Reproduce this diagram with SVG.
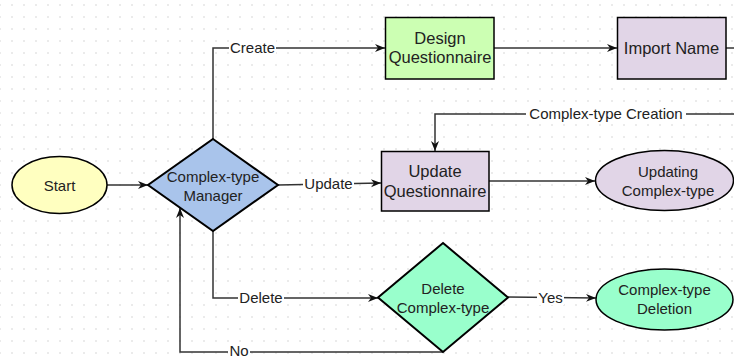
<svg xmlns="http://www.w3.org/2000/svg" width="734" height="358" viewBox="0 0 734 358">
<style>
.n{stroke:#000;stroke-width:1.5}
.d{stroke:#000;stroke-width:2}
.t{font-family:"Liberation Sans",Arial,sans-serif;font-size:15px;fill:#222;text-anchor:middle}
.tb{font-family:"Liberation Sans",Arial,sans-serif;font-size:16.5px;fill:#222;text-anchor:middle}
.c{fill:none;stroke:#333;stroke-width:1.5}
.lb{fill:#fff}
.l{font-family:"Liberation Sans",Arial,sans-serif;font-size:15px;fill:#222;text-anchor:middle}
</style>
<defs>
<pattern id="grid" patternUnits="userSpaceOnUse" x="6" y="0" width="12" height="12">
<circle cx="6" cy="5" r="0.8" fill="#d2d2d2"/>
</pattern>
<marker id="arr" viewBox="0 0 10 10" refX="10" refY="5" markerWidth="10" markerHeight="10" markerUnits="userSpaceOnUse" orient="auto">
<path d="M0,1 L10,5 L0,9 L3,5 Z" fill="#111"/>
</marker>
</defs>
<rect width="734" height="358" fill="#fff"/>
<rect width="734" height="358" fill="url(#grid)"/>

<g id="connectors">
<path class="c" d="M107,185 L148,185" marker-end="url(#arr)"/>
<path class="c" d="M213,139 L213,48 L385,48" marker-end="url(#arr)"/>
<path class="c" d="M494,48 L617,48" marker-end="url(#arr)"/>
<path class="c" d="M726,48 L734,48"/>
<path class="c" d="M734,114 L435,114 L435,151" marker-end="url(#arr)"/>
<path class="c" d="M278,185 L381,183" marker-end="url(#arr)"/>
<path class="c" d="M489,181 L595,181" marker-end="url(#arr)"/>
<path class="c" d="M213,231 L213,298 L378,298" marker-end="url(#arr)"/>
<path class="c" d="M508,297 L596,298" marker-end="url(#arr)"/>
<path class="c" d="M443,352 L180,352 L180,208" marker-end="url(#arr)"/>
<rect class="lb" x="229" y="40" width="47" height="16"/>
<text class="l" x="252.5" y="53">Create</text>
<rect class="lb" x="526" y="105" width="160" height="16"/>
<text class="l" x="606" y="118.5">Complex-type Creation</text>
<rect class="lb" x="303" y="175" width="51" height="16"/>
<text class="l" x="328.5" y="188.5">Update</text>
<rect class="lb" x="238" y="290" width="46" height="16"/>
<text class="l" x="261" y="303">Delete</text>
<rect class="lb" x="537" y="289" width="27" height="16"/>
<text class="l" x="550.5" y="302.5">Yes</text>
<rect class="lb" x="228" y="344" width="22" height="14"/>
<text class="l" x="239" y="356">No</text>
</g>

<g id="start">
<ellipse class="n" cx="59.5" cy="185" rx="47.5" ry="28.5" fill="#ffffc0"/>
<text class="t" x="59.5" y="191">Start</text>
</g>

<g id="manager">
<polygon class="d" points="213,139 278,185 213,231 148,185" fill="#a9c4eb"/>
<text class="t" x="213" y="182">Complex-type</text>
<text class="t" x="213" y="200.5">Manager</text>
</g>

<g id="design">
<rect class="n" x="385.5" y="17.5" width="108.5" height="61.5" fill="#ccffb3"/>
<text class="tb" x="440" y="44">Design</text>
<text class="tb" x="440" y="63">Questionnaire</text>
</g>

<g id="import">
<rect class="n" x="617.5" y="17.5" width="108.5" height="61.5" fill="#e1d5e7"/>
<text class="tb" x="671.5" y="54">Import Name</text>
</g>

<g id="update">
<rect class="n" x="381.5" y="151.5" width="107.5" height="59.5" fill="#e1d5e7"/>
<text class="tb" x="435" y="176.5">Update</text>
<text class="tb" x="435" y="196.5">Questionnaire</text>
</g>

<g id="updating">
<ellipse class="n" cx="664.5" cy="180.5" rx="69" ry="30" fill="#e1d5e7"/>
<text class="t" x="668" y="177">Updating</text>
<text class="t" x="668" y="195.5">Complex-type</text>
</g>

<g id="delete">
<polygon class="d" points="443,243 508,297.5 443,352 378,297.5" fill="#99ffcc"/>
<text class="t" x="443" y="294">Delete</text>
<text class="t" x="443" y="312.5">Complex-type</text>
</g>

<g id="deletion">
<ellipse class="n" cx="664.5" cy="299.5" rx="68.5" ry="30.5" fill="#99ffcc"/>
<text class="t" x="664.5" y="295">Complex-type</text>
<text class="t" x="664.5" y="313.5">Deletion</text>
</g>
</svg>
